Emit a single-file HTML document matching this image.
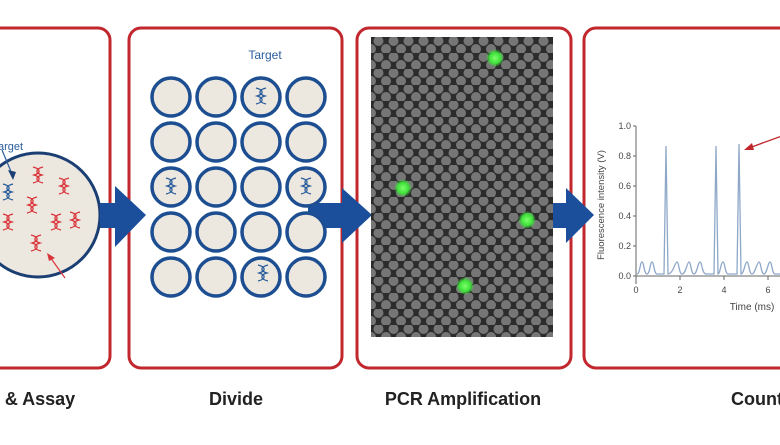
<!DOCTYPE html>
<html><head><meta charset="utf-8"><style>
body{margin:0;background:#fff;width:780px;height:440px;overflow:hidden;font-family:"Liberation Sans",sans-serif}
</style></head><body>
<svg width="780" height="440" viewBox="0 0 780 440" xmlns="http://www.w3.org/2000/svg">
<defs>
<pattern id="hex" x="371" y="37" width="15" height="16" patternUnits="userSpaceOnUse">
<rect width="15" height="16" fill="#2c2c2c"/>
<circle cx="7.5" cy="4" r="5" fill="#767676"/>
<circle cx="0" cy="12" r="5" fill="#767676"/>
<circle cx="15" cy="12" r="5" fill="#767676"/>
</pattern>
<g id="dna" fill="none" stroke-width="1.3">
<path d="M-5,-8 C3,-6 3,-2 -4,0 C3,2 3,6 -5,8"/>
<path d="M5,-8 C-3,-6 -3,-2 4,0 C-3,2 -3,6 5,8"/>
</g>
<radialGradient id="g"><stop offset="0" stop-color="#7dff6a"/><stop offset="0.6" stop-color="#3ee23a"/><stop offset="1" stop-color="#3ee23a" stop-opacity="0"/></radialGradient>
</defs>
<g fill="none" stroke="#c1272d" stroke-width="3">
<rect x="-20" y="28" width="130" height="340" rx="12"/>
<rect x="129" y="28" width="213" height="340" rx="12"/>
<rect x="357" y="28" width="214" height="340" rx="12"/>
<rect x="584" y="28" width="220" height="340" rx="12"/>
</g>
<text x="-2" y="150" font-size="11" fill="#2a5d9c">arget</text>
<circle cx="38" cy="215" r="62" fill="#ece7df" stroke="#1c3f73" stroke-width="3"/>
<path d="M2,150 L12,174" stroke="#2a5d9c" stroke-width="1.2"/>
<polygon points="8,170 16,172 13,180" fill="#1c3f73"/>
<use href="#dna" x="38" y="175" stroke="#d9343a"/>
<use href="#dna" x="64" y="186" stroke="#d9343a"/>
<use href="#dna" x="32" y="205" stroke="#d9343a"/>
<use href="#dna" x="8" y="222" stroke="#d9343a"/>
<use href="#dna" x="56" y="222" stroke="#d9343a"/>
<use href="#dna" x="75" y="220" stroke="#d9343a"/>
<use href="#dna" x="36" y="243" stroke="#d9343a"/>
<use href="#dna" x="8" y="192" stroke="#2a5d9c"/>
<path d="M65,278 L50,257" stroke="#d9343a" stroke-width="1.2"/>
<polygon points="47,253 55,258 49,261" fill="#d9343a"/>
<g fill="#1b4f9b">
<polygon points="100,203 115,203 115,186 146,215 115,247 115,228 100,228"/>
<polygon points="308,203 342,203 342,188 372,215 342,243 342,228 308,228"/>
<polygon points="553,203 566,203 566,188 594,215 566,243 566,228 553,228"/>
</g>
<text x="265" y="59" font-size="12" fill="#2a5d9c" text-anchor="middle">Target</text>
<g fill="#ece7df" stroke="#1c4e91" stroke-width="3.5">
<circle cx="171" cy="97" r="19"/><circle cx="216" cy="97" r="19"/><circle cx="261" cy="97" r="19"/><circle cx="306" cy="97" r="19"/>
<circle cx="171" cy="142" r="19"/><circle cx="216" cy="142" r="19"/><circle cx="261" cy="142" r="19"/><circle cx="306" cy="142" r="19"/>
<circle cx="171" cy="187" r="19"/><circle cx="216" cy="187" r="19"/><circle cx="261" cy="187" r="19"/><circle cx="306" cy="187" r="19"/>
<circle cx="171" cy="232" r="19"/><circle cx="216" cy="232" r="19"/><circle cx="261" cy="232" r="19"/><circle cx="306" cy="232" r="19"/>
<circle cx="171" cy="277" r="19"/><circle cx="216" cy="277" r="19"/><circle cx="261" cy="277" r="19"/><circle cx="306" cy="277" r="19"/>
</g>
<g stroke="#2a5d9c">
<use href="#dna" x="261" y="96"/><use href="#dna" x="171" y="186"/><use href="#dna" x="306" y="186"/><use href="#dna" x="263" y="273"/>
</g>
<rect x="371" y="37" width="182" height="300" fill="url(#hex)"/>
<circle cx="495" cy="58" r="9" fill="url(#g)"/>
<circle cx="403" cy="188" r="9" fill="url(#g)"/>
<circle cx="527" cy="220" r="9" fill="url(#g)"/>
<circle cx="465" cy="286" r="9" fill="url(#g)"/>
<g stroke="#666" stroke-width="1" fill="none">
<path d="M636,126 L636,284"/><path d="M636,276 L790,276"/>
<path d="M633,126h3M633,156h3M633,186h3M633,216h3M633,246h3M633,276h3"/>
<path d="M636,276v4M680,276v4M724,276v4M768,276v4"/>
</g>
<g font-size="9" fill="#444" text-anchor="end">
<text x="631" y="129">1.0</text><text x="631" y="159">0.8</text><text x="631" y="189">0.6</text><text x="631" y="219">0.4</text><text x="631" y="249">0.2</text><text x="631" y="279">0.0</text>
</g>
<g font-size="9" fill="#444" text-anchor="middle">
<text x="636" y="293">0</text><text x="680" y="293">2</text><text x="724" y="293">4</text><text x="768" y="293">6</text>
</g>
<text x="752" y="310" font-size="10" fill="#444" text-anchor="middle">Time (ms)</text>
<text transform="translate(604,205) rotate(-90)" font-size="9.5" fill="#444" text-anchor="middle">Fluorescence intensity (V)</text>
<path d="M637,274 C640,274 640,262 642,262 C644,262 644,274 647,274 C650,274 650,262 652,262 C654,262 654,274 657,274 L664,274 L666,146 L668,274 C673,274 675,262 677,262 C679,262 679,274 682,274 C686,274 687,262 689,262 C691,262 691,274 694,274 C697,274 698,262 700,262 C702,262 702,274 706,274 L714,274 L716,146 L718,274 C720,274 721,262 723,262 C725,262 725,274 728,274 L737,274 L739,144 L741,274 C744,274 745,262 747,262 C749,262 749,274 752,274 C755,274 757,262 759,262 C761,262 761,274 764,274 C767,274 768,262 770,262 C772,262 772,274 775,274 L790,274" fill="none" stroke="#8fa8c8" stroke-width="1.3"/>
<path d="M790,133 L749,148" stroke="#c1272d" stroke-width="1.3"/>
<polygon points="744,150 752,143 754,150" fill="#c1272d"/>
<g font-size="18" font-weight="bold" fill="#222" text-anchor="middle">
<text x="40" y="405">&amp; Assay</text>
<text x="236" y="405">Divide</text>
<text x="463" y="405">PCR Amplification</text>
<text x="757" y="405">Count</text>
</g>
</svg>
</body></html>
